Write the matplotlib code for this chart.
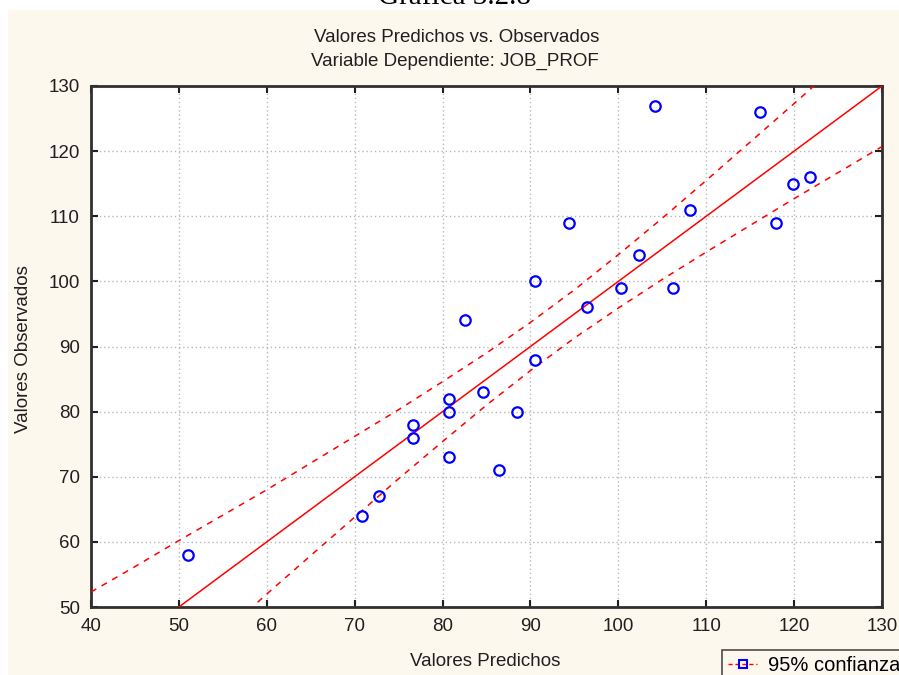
"""Valores Predichos vs. Observados (JOB_PROF) with 95% band."""

import matplotlib
matplotlib.use("Agg")
import matplotlib.pyplot as plt
from matplotlib.lines import Line2D
from matplotlib.patches import Rectangle

predichos = [51.0, 70.8, 72.8, 76.6, 76.6, 80.7, 80.7, 80.7, 82.5, 84.6,
             86.4, 88.5, 90.5, 90.5, 94.4, 96.4, 100.3, 102.3, 106.2, 104.2,
             108.1, 116.1, 117.9, 119.9, 121.8]
observados = [58, 64, 67, 78, 76, 82, 80, 73, 94, 83,
              71, 80, 100, 88, 109, 96, 99, 104, 99, 127,
              111, 126, 109, 115, 116]

# regression line and 95% confidence band (read at every 5 units)
fit_x = [40, 130]
fit_y = [40, 130]
band_x = [40, 45, 50, 55, 60, 65, 70, 75, 80, 85, 90, 95, 100, 105, 110,
          115, 120, 125, 130]
band_upper = [52.3, 56.2, 60.2, 64.1, 68.0, 72.1, 76.2, 80.3, 84.6, 89.0,
              93.7, 98.7, 104.1, 109.7, 115.5, 121.4, 127.3, 133.3, 139.3]
band_lower = [27.7, 33.8, 39.8, 45.9, 52.0, 57.9, 63.8, 69.7, 75.4, 81.0,
              86.3, 91.3, 95.9, 100.3, 104.5, 108.6, 112.7, 116.7, 120.7]

x_ticks = [40, 50, 60, 70, 80, 90, 100, 110, 120, 130]
y_ticks = [50, 60, 70, 80, 90, 100, 110, 120, 130]

CREAM = "#fdf8ee"
FONT = "Liberation Sans"
TXT = "#202020"

fig = plt.figure(figsize=(8.99, 6.75), dpi=100)
fig.patch.set_facecolor("white")

# cream panel behind the chart (image starts a bit below the caption)
fig.patches.append(Rectangle((8 / 899, 0), 1, 1 - 10 / 675,
                             transform=fig.transFigure, facecolor=CREAM,
                             edgecolor="none", zorder=-10))

# caption cut off at the top of the picture
fig.text(455 / 899, 1 - 4 / 675, "Gráfica 3.2.8", family="Liberation Serif",
         fontsize=21, ha="center", va="baseline", color="black")

ax = fig.add_axes([91 / 899, 1 - 607 / 675, 791 / 899, 521 / 675])
ax.set_facecolor("white")

ax.plot(fit_x, fit_y, "-", color="red", lw=1.1, zorder=3)
ax.plot(band_x, band_upper, color="red", lw=1.1, dashes=(4, 4), zorder=3)
ax.plot(band_x, band_lower, color="red", lw=1.1, dashes=(4, 4), zorder=3)
ax.plot(predichos, observados, "o", mfc="none", mec="blue", ms=7.5, mew=1.6,
        zorder=4)

ax.set_xlim(40, 130)
ax.set_ylim(50, 130)
ax.set_xticks(x_ticks)
ax.set_yticks(y_ticks)
ax.set_xticklabels([str(t) for t in x_ticks], family=FONT, fontsize=13.5,
                   color=TXT)
ax.set_yticklabels([str(t) for t in y_ticks], family=FONT, fontsize=13.5,
                   color=TXT)
ax.tick_params(direction="in", length=5, width=1.5, color=TXT,
               top=True, right=True, pad=8)
ax.grid(True, color="#b8b8b8", linestyle=(0, (1, 2)), lw=1)
for sp in ax.spines.values():
    sp.set_linewidth(2)
    sp.set_color("#303030")

ax.set_xlabel("Valores Predichos", family=FONT, fontsize=13.5, color=TXT,
              va="center")
ax.set_ylabel("Valores Observados", family=FONT, fontsize=13.5, color=TXT,
              va="center")
ax.xaxis.set_label_coords((485 - 91) / 791, -(662 - 607) / 521)
ax.yaxis.set_label_coords((24 - 91) / 791, (607 - 349) / 521)

fig.text(457 / 899, 1 - 38 / 675, "Valores Predichos vs. Observados",
         family=FONT, fontsize=13.5, ha="center", va="center", color=TXT)
fig.text(455 / 899, 1 - 61 / 675, "Variable Dependiente: JOB_PROF",
         family=FONT, fontsize=13.5, ha="center", va="center", color=TXT)

# legend, partly outside the picture (cut at right and bottom)
handle = Line2D([], [], color="red", lw=1, dashes=(3, 2), marker="s",
                mfc="none", mec="blue", ms=6, mew=1.5)
leg = fig.legend([handle], ["95% confianza"], loc="upper left",
                 bbox_to_anchor=(722 / 899, 1 - 650 / 675),
                 prop={"family": FONT, "size": 14.5}, frameon=True,
                 fancybox=False, borderpad=0.3, handlelength=1.45,
                 handletextpad=0.54, borderaxespad=0)
leg.get_frame().set_edgecolor(TXT)
leg.get_frame().set_linewidth(1.2)
leg.get_frame().set_facecolor(CREAM)

fig.savefig("out.png", dpi=100, facecolor=fig.get_facecolor())
